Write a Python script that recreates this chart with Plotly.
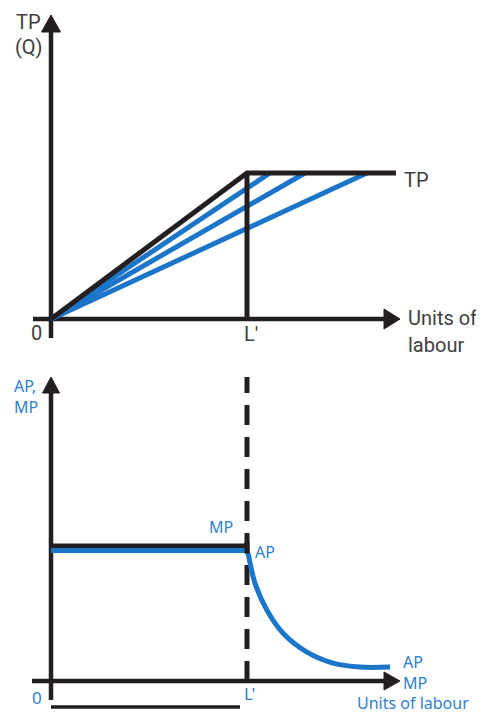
import plotly.graph_objects as go

# The page body has an 8px margin, so the figure is drawn 8px in and 8px down.
OFF = 8
W, H = 484 - OFF, 714 - OFF

# ---------------- data ----------------
# Top panel: total product (labour units, output)
L_PRIME = 10
tp_labour = [0, 10, 17.6]
tp_output = [0, 10, 10]
ray_end_labour = [11.17, 12.96, 16.12]
ray_end_output = [10, 10, 10]

# Bottom panel: average / marginal product
mp_labour = [0, 10]
mp_value = [10.35, 10.35]
ap_flat_labour = [0, 10]
ap_flat_value = [10, 10]
ap_curve_labour = [10, 10.05, 10.41, 11.02, 11.84, 13.06, 14.39, 15.77, 17.3]
ap_curve_value = [10, 9.77, 7.48, 5.42, 3.66, 2.21, 1.37, 1.07, 1.07]

# ---------------- geometry (page pixels) ----------------
X_PX = 19.6          # pixels per labour unit
X0_PX = 51           # page column of origin
TOP_PX = 14.6        # pixels per output unit (top)
TOP_O_PX = 319       # page row of top origin
BOT_PX = 13.05       # pixels per AP unit (bottom)
BOT_O_PX = 681       # page row of bottom origin
SPLIT_PX = 360

BLACK = "#231f20"
BLUE = "#1b75c9"
GREY = "#404040"
TBLUE = "#2f80cc"

fig = go.Figure()

def line(x, y, ax, color, width, dash=None, shape="linear"):
    xa, ya = ("x", "y") if ax == 1 else ("x2", "y2")
    fig.add_trace(go.Scatter(x=x, y=y, xaxis=xa, yaxis=ya, mode="lines",
                             line=dict(color=color, width=width, dash=dash, shape=shape),
                             hoverinfo="skip"))

def arrow(tip_x, tip_y, direction, ax, ypx, length=16, half=9.5):
    xa, ya = ("x", "y") if ax == 1 else ("x2", "y2")
    if direction == "up":
        xs = [tip_x - half / X_PX, tip_x + half / X_PX, tip_x, tip_x - half / X_PX]
        ys = [tip_y - length / ypx, tip_y - length / ypx, tip_y, tip_y - length / ypx]
    else:
        xs = [tip_x - length / X_PX, tip_x - length / X_PX, tip_x, tip_x - length / X_PX]
        ys = [tip_y - half / ypx, tip_y + half / ypx, tip_y, tip_y - half / ypx]
    fig.add_trace(go.Scatter(x=xs, y=ys, xaxis=xa, yaxis=ya, mode="lines",
                             fill="toself", fillcolor=BLACK,
                             line=dict(color=BLACK, width=1), hoverinfo="skip"))

# ---- top axes ----
y_tip_top = (TOP_O_PX - 15) / TOP_PX
x_tip = (400 - X0_PX) / X_PX
line([0, 0], [-19 / TOP_PX, y_tip_top - 10 / TOP_PX], 1, BLACK, 4.5)
line([-18 / X_PX, x_tip - 10 / X_PX], [0, 0], 1, BLACK, 4.5)
arrow(0, y_tip_top, "up", 1, TOP_PX, length=17, half=9.5)
arrow(x_tip, 0, "right", 1, TOP_PX, length=16, half=10)

# rays (blue) then TP (black)
for xe, ye in zip(ray_end_labour, ray_end_output):
    line([0, xe], [0, ye], 1, BLUE, 5)
line(tp_labour, tp_output, 1, BLACK, 5)
line([L_PRIME, L_PRIME], [0, tp_output[1]], 1, BLACK, 5)

# ---- bottom axes ----
y_tip_bot = (BOT_O_PX - 377) / BOT_PX
line([0, 0], [-19 / BOT_PX, y_tip_bot - 10 / BOT_PX], 2, BLACK, 4.5)
line([-19 / X_PX, x_tip - 10 / X_PX], [0, 0], 2, BLACK, 4.5)
arrow(0, y_tip_bot, "up", 2, BOT_PX, length=16, half=8.5)
arrow(x_tip, 0, "right", 2, BOT_PX, length=16, half=9)
line([0, (240 - X0_PX) / X_PX], [-26 / BOT_PX, -26 / BOT_PX], 2, BLACK, 3.5)

# dashed L' line
line([L_PRIME, L_PRIME], [0, y_tip_bot], 2, BLACK, 5, dash="20px,12px")

# MP (black) and AP (blue)
line(mp_labour, mp_value, 2, BLACK, 5)
line(ap_flat_labour, ap_flat_value, 2, BLUE, 5)
line(ap_curve_labour, ap_curve_value, 2, BLUE, 5, shape="spline")
line([L_PRIME, L_PRIME], [ap_flat_value[1] - 3 / BOT_PX, mp_value[1] + 4 / BOT_PX], 2, BLACK, 5)

# ---------------- text ----------------
GFONT = "Roboto, Liberation Sans Narrow, sans-serif"
BFONT = "Noto Sans, sans-serif"

def label(text, px, py, ax, color, family, size, xanchor="left"):
    if ax == 1:
        x, y = (px - X0_PX) / X_PX, (TOP_O_PX - py) / TOP_PX
        xr, yr = "x", "y"
    else:
        x, y = (px - X0_PX) / X_PX, (BOT_O_PX - py) / BOT_PX
        xr, yr = "x2", "y2"
    fig.add_annotation(x=x, y=y, xref=xr, yref=yr, text=text, showarrow=False,
                       xanchor=xanchor, yanchor="middle", align="left", borderpad=0,
                       font=dict(family=family, size=size, color=color))

label("TP", 15, 22, 1, GREY, GFONT, 20)
label("(Q)", 14, 47, 1, GREY, GFONT, 20)
label("0", 30, 333, 1, GREY, GFONT, 20)
label("L'", 243, 334, 1, GREY, GFONT, 20)
label("TP", 403, 180, 1, GREY, GFONT, 20)
label("Units of", 407, 318, 1, GREY, GFONT, 20)
label("labour", 407, 345, 1, GREY, GFONT, 20)

label("AP,<br>MP", 13, 397, 2, TBLUE, BFONT, 16)
label("MP", 208, 527, 2, TBLUE, BFONT, 16)
label("AP", 254, 552, 2, TBLUE, BFONT, 16)
label("AP<br>MP", 402, 672, 2, TBLUE, BFONT, 16)
label("Units of labour", 356, 703, 2, TBLUE, BFONT, 16)
label("0", 31, 697, 2, TBLUE, BFONT, 17)
label("L'", 243, 693, 2, TBLUE, BFONT, 17)

# page pixel -> figure fraction
split = 1 - (SPLIT_PX - OFF) / H
xr = [(OFF - X0_PX) / X_PX, (OFF + W - X0_PX) / X_PX]
hidden = dict(visible=False, showgrid=False, zeroline=False, fixedrange=True)
fig.update_layout(
    width=W, height=H, margin=dict(l=0, r=0, t=0, b=0),
    paper_bgcolor="white", plot_bgcolor="white", showlegend=False,
    xaxis=dict(domain=[0, 1], range=xr, anchor="y", **hidden),
    yaxis=dict(domain=[split, 1], anchor="x",
               range=[(TOP_O_PX - SPLIT_PX) / TOP_PX, (TOP_O_PX - OFF) / TOP_PX], **hidden),
    xaxis2=dict(domain=[0, 1], range=xr, anchor="y2", **hidden),
    yaxis2=dict(domain=[0, split], anchor="x2",
                range=[(BOT_O_PX - (OFF + H)) / BOT_PX, (BOT_O_PX - SPLIT_PX) / BOT_PX], **hidden),
)

fig.write_html("out.html")
